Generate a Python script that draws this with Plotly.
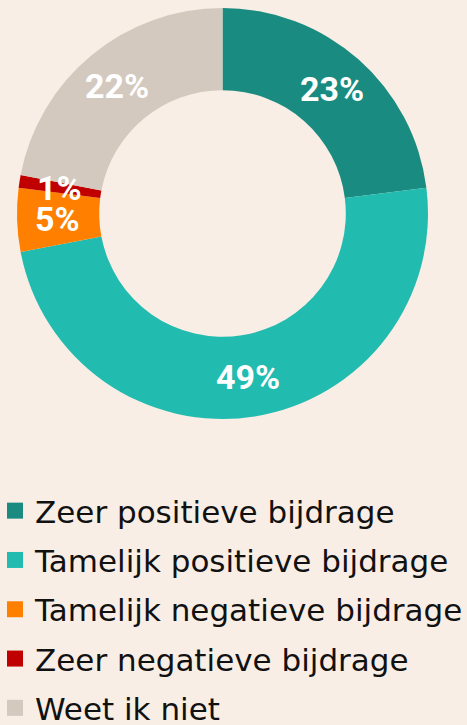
import math
import plotly.graph_objects as go

categories = ["Zeer positieve bijdrage", "Tamelijk positieve bijdrage",
              "Tamelijk negatieve bijdrage", "Zeer negatieve bijdrage", "Weet ik niet"]
values = [23, 49, 5, 1, 22]
colors = ["#1A8B80", "#22BBB0", "#FF8000", "#C00000", "#D3C9BF"]

BG = "#F8EEE5"
W, H = 467, 725
FONT = "DejaVu Sans"
LABEL_FONT = "Roboto"
HOLE = 0.6

# pie domain (pixels)
px0, px1, py0, py1 = 17, 428, 8, 419
cx, cy = (px0 + px1) / 2, (py0 + py1) / 2
R = min(px1 - px0, py1 - py0) / 2

fig = go.Figure()
fig.add_trace(go.Pie(
    labels=categories, values=values, sort=False, direction="clockwise", rotation=0,
    hole=HOLE, marker=dict(colors=colors, line=dict(width=0)),
    textinfo="none", showlegend=False, hoverinfo="label+percent",
    domain=dict(x=[px0 / W, px1 / W], y=[1 - py1 / H, 1 - py0 / H]),
))
for i, (c, col) in enumerate(zip(categories, colors)):
    fig.add_trace(go.Scatter(
        x=[None], y=[None], mode="markers", name=c, legendgroup=str(i),
        marker=dict(symbol="square", size=16, color=col),
    ))

# value labels at the middle of each ring segment
total = sum(values)
cum = 0
rr = R * (1 + HOLE) / 2 + 1
for v in values:
    a = 2 * math.pi * (cum + v / 2) / total
    cum += v
    x = cx + rr * math.sin(a)
    y = cy - rr * math.cos(a)
    fig.add_annotation(x=x / W, y=1 - y / H, xref="paper", yref="paper",
                       xanchor="center", yanchor="middle",
                       text=f"<b>{v}%</b>", showarrow=False,
                       font=dict(family=LABEL_FONT, size=34, color="white"))

fig.update_layout(
    width=W, height=H, margin=dict(l=0, r=0, t=0, b=0, autoexpand=False),
    paper_bgcolor=BG, plot_bgcolor=BG,
    xaxis=dict(visible=False), yaxis=dict(visible=False),
    legend=dict(x=-5 / W, y=1 - 484 / H, xanchor="left", yanchor="top",
                font=dict(family=FONT, size=31, color="#111111"),
                tracegroupgap=6, bgcolor="rgba(0,0,0,0)"),
)
fig.write_html("out.html", config={"displayModeBar": False},
               post_script="document.body.style.margin='0';")
